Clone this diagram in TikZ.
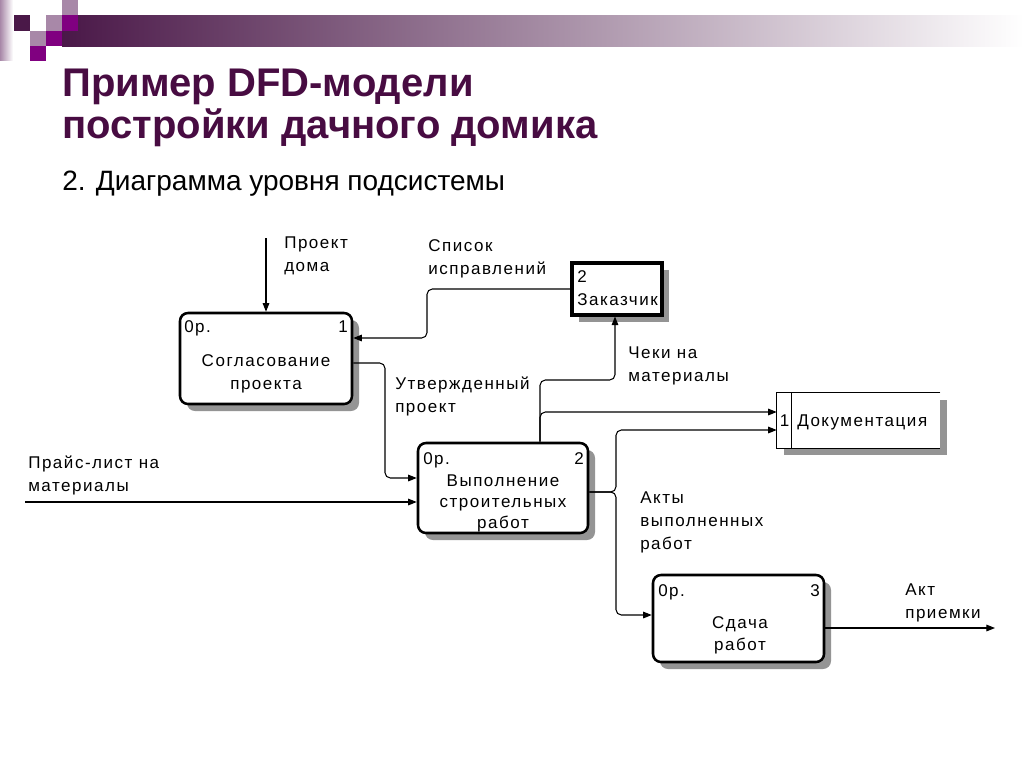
\documentclass[tikz,border=0pt]{standalone}
\usepackage{fontspec}
\setmainfont{Liberation Sans}
\newfontfamily\dfd[LetterSpace=9]{Liberation Sans}
\usetikzlibrary{arrows.meta,shadows,calc}
\definecolor{ttl}{RGB}{72,12,66}
\definecolor{sqdark}{RGB}{74,24,72}
\definecolor{sqmag}{RGB}{128,0,128}
\definecolor{sqmauve}{RGB}{168,136,168}
\definecolor{bargray}{RGB}{150,140,150}
\begin{document}
\begin{tikzpicture}[x=0.75pt,y=-0.75pt,
  hatch/.style={fill=black!42},
  proc/.style={draw, line width=1.9pt, rounded corners=6pt, fill=white, inner sep=0pt,
    general shadow={shadow xshift=5.25pt, shadow yshift=-5.25pt, hatch}},
  ent/.style={draw, line width=2.3pt, fill=white, inner sep=0pt,
    general shadow={shadow xshift=5.5pt, shadow yshift=-5.5pt, hatch}},
  storebox/.style={draw=none, fill=white, inner sep=0pt,
    general shadow={shadow xshift=5.25pt, shadow yshift=-5.25pt, hatch}},
  lab/.style={font=\dfd\fontsize{12.75pt}{15pt}\selectfont, inner sep=0pt},
  flow/.style={draw, line width=0.8pt, rounded corners=4pt, -{Triangle[length=6.5pt,width=5pt]}},
  line/.style={draw, line width=0.8pt, rounded corners=4pt}
  ]
\useasboundingbox (0,0) rectangle (1024,768);
\fill[white] (0,0) rectangle (1024,768);
% header decoration
\shade[left color=sqmauve, right color=white] (0,0) rectangle (13,60);
\shade[left color=sqdark, middle color=bargray, right color=white] (62,15) rectangle (1024,46);
\fill[sqmauve] (62,0) rectangle (78,15);
\fill[sqdark] (14,15) rectangle (30,31);
\fill[sqmauve] (46,15) rectangle (62,31);
\fill[sqmag] (62,15) rectangle (78,31);
\fill[sqmauve] (30,31) rectangle (46,46);
\fill[sqmag] (46,31) rectangle (62,46);
\fill[sqmag] (30,46) rectangle (46,61);
% titles
\node[anchor=base west, inner sep=0, font=\bfseries\fontsize{30pt}{36pt}\selectfont, text=ttl] (t1) at (62,96) {Пример DFD-модели};
\node[anchor=base west, inner sep=0, font=\bfseries\fontsize{30pt}{36pt}\selectfont, text=ttl] (t2) at (62,138) {постройки дачного домика};
\node[anchor=base west, inner sep=0, font=\fontsize{21pt}{25pt}\selectfont] (t3) at (62,190) {2. Диаграмма уровня\ подсистемы};
% boxes
\node[proc, minimum width=129pt, minimum height=68.25pt] (p1) at (266,358.5) {};
\node[proc, minimum width=127.5pt, minimum height=67.5pt] (p2) at (503,488) {};
\node[proc, minimum width=128.25pt, minimum height=65.25pt] (p3) at (738.5,618.5) {};
\node[ent, minimum width=67.5pt, minimum height=39pt] (z) at (617,289) {};
\node[storebox, minimum width=122.25pt, minimum height=41.25pt] (doc) at (858.5,420.5) {};
\draw[line width=1.1pt] (doc.north east) -- (doc.north west) -- (doc.south west) -- (doc.south east);
\draw[line width=1.1pt] ($(doc.north west)+(15,0)$) -- ($(doc.south west)+(15,0)$);
% box texts
\node[lab, anchor=base west] (p1n) at (184,332) {0р.};
\node[lab, anchor=base east] (p1k) at (348,332) {1};
\node[lab, anchor=base] (p1a) at (266,366) {Согласование};
\node[lab, anchor=base] (p1b) at (266,389) {проекта};
\node[lab, anchor=base west] (p2n) at (423,464) {0р.};
\node[lab, anchor=base east] (p2k) at (584,464) {2};
\node[lab, anchor=base] (p2a) at (503,486) {Выполнение};
\node[lab, anchor=base] (p2b) at (503,507) {строительных};
\node[lab, anchor=base] (p2c) at (503,528) {работ};
\node[lab, anchor=base west] (p3n) at (658,596) {0р.};
\node[lab, anchor=base east] (p3k) at (820,596) {3};
\node[lab, anchor=base] (p3a) at (740,628) {Сдача};
\node[lab, anchor=base] (p3b) at (740,650) {работ};
\node[lab, anchor=base west] (zk) at (577,282) {2};
\node[lab, anchor=base west] (za) at (577,305) {Заказчик};
\node[lab, anchor=base] (dk) at (784.5,426) {1};
\node[lab, anchor=base west] (da) at (797,426) {Документация};
% flow labels
\node[lab, anchor=base west] (la1) at (284,248) {Проект};
\node[lab, anchor=base west] (la2) at (284,271) {дома};
\node[lab, anchor=base west] (lb1) at (428,251) {Список};
\node[lab, anchor=base west] (lb2) at (428,274) {исправлений};
\node[lab, anchor=base west] (lc1) at (395,389) {Утвержденный};
\node[lab, anchor=base west] (lc2) at (395,412) {проект};
\node[lab, anchor=base west] (ld1) at (28,468) {Прайс-лист на};
\node[lab, anchor=base west] (ld2) at (28,491) {материалы};
\node[lab, anchor=base west] (le1) at (628,358) {Чеки на};
\node[lab, anchor=base west] (le2) at (628,381) {материалы};
\node[lab, anchor=base west] (lf1) at (640,503) {Акты};
\node[lab, anchor=base west] (lf2) at (640,526) {выполненных};
\node[lab, anchor=base west] (lf3) at (640,549) {работ};
\node[lab, anchor=base west] (lg1) at (905,595) {Акт};
\node[lab, anchor=base west] (lg2) at (905,618) {приемки};
% free ends
\coordinate (inA) at (266,238);
\coordinate (inD) at (25,502);
\coordinate (outG) at (995,628);
% connectors
\draw[flow] (inA) -- (p1.north);
\draw[flow] (z.west) -- (427,289) -- (427,338) -- (p1.east |- 0,338);
\draw[flow] (p1.east |- 0,363) -- (385,363) -- (385,478) -- (p2.west |- 0,478);
\draw[flow] (inD) -- (p2.west |- 0,502);
\draw[flow] (p2.north -| 540,0) -- (540,380) -- (615,380) -- (z.south -| 615,0);
\draw[flow] (p2.north -| 540,0) -- (540,412) -- (doc.west |- 0,412);
\draw[flow] (p2.east |- 0,492) -- (616,492) -- (616,430) -- (doc.west |- 0,430);
\draw[flow] (p2.east |- 0,492) -- (616,492) -- (616,615) -- (p3.west |- 0,615);
\draw[flow] (p3.east |- 0,628) -- (outG);
\end{tikzpicture}
\end{document}
